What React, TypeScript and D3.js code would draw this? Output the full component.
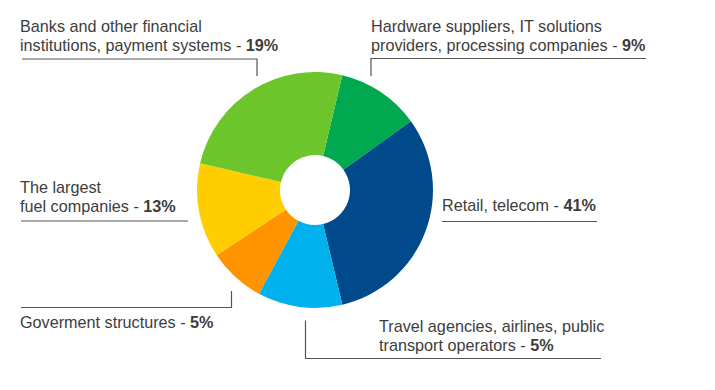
import { useEffect, useRef } from "react";
import * as d3 from "d3";

// ─── Data ─────────────────────────────────────────────────────────────────────

// slices clockwise, starting at the top (just right of 12 o'clock)
const SECTORS = ["Hardware", "Retail", "Travel", "Goverment", "Fuel", "Banks"];
// slice shares as drawn in the picture (not the printed labels)
const SHARES = [11.4, 31.2, 11.6, 7.8, 13.0, 25.1];
const COLORS = ["#00a84f", "#004a8b", "#00b1ee", "#ff9400", "#ffcd00", "#6cc52b"];

// labels: text lines, bold percent
const LABEL_LINES = [
  ["Hardware suppliers, IT solutions", "providers, processing companies - "],
  ["Retail, telecom - "],
  ["Travel agencies, airlines, public", "transport operators - "],
  ["Goverment structures - "],
  ["The largest", "fuel companies - "],
  ["Banks and other financial", "institutions, payment systems - "],
];
const LABEL_PCT = ["9%", "41%", "5%", "5%", "13%", "19%"];

// ─── Style ────────────────────────────────────────────────────────────────────

const TEXT = "#3d3d3d";
const LINE = "#555555";
const FONT = "'Liberation Sans', Arial, sans-serif";

export default function App() {
  const svgRef = useRef<SVGSVGElement>(null);

  useEffect(() => {
    if (!svgRef.current) return;
    const W = 715,
      H = 390;
    const cx = 315,
      cy = 190,
      R = 118,
      r = 35;

    const svg = d3.select(svgRef.current);
    svg.selectAll("*").remove();
    svg.attr("viewBox", `0 0 ${W} ${H}`);

    const start = (13.4 * Math.PI) / 180;
    const pie = d3
      .pie<number>()
      .sort(null)
      .startAngle(start)
      .endAngle(start + 2 * Math.PI)
      .value((d) => d);
    const arc = d3.arc<d3.PieArcDatum<number>>().innerRadius(r).outerRadius(R);

    svg
      .append("g")
      .attr("transform", `translate(${cx},${cy})`)
      .selectAll("path")
      .data(pie(SHARES))
      .enter()
      .append("path")
      .attr("d", arc)
      .attr("fill", (_, i) => COLORS[i]);

    // label anchor x / first baseline, leader paths
    const labelPos = [
      { x: 371, y: 31.5 },
      { x: 442, y: 211 },
      { x: 379, y: 331.5 },
      { x: 20, y: 327.5 },
      { x: 20, y: 193 },
      { x: 20, y: 31.5 },
    ];
    const leaders = [
      [[371, 76], [371, 58.5], [646, 58.5]],
      [[442, 221.5], [597, 221.5]],
      [[305.5, 320.5], [305.5, 358.5], [601, 358.5]],
      [[21, 307.5], [231.5, 307.5], [231.5, 291]],
      [[21, 221], [188, 221]],
      [[22, 59], [257, 59], [257, 76]],
    ];

    const lineGen = d3.line();
    svg
      .append("g")
      .selectAll("path")
      .data(leaders)
      .enter()
      .append("path")
      .attr("d", (d) => lineGen(d as [number, number][]))
      .attr("fill", "none")
      .attr("stroke", LINE)
      .attr("stroke-width", 1.2);

    const labels = svg
      .append("g")
      .attr("font-family", FONT)
      .attr("font-size", 16.2)
      .attr("fill", TEXT);

    LABEL_LINES.forEach((lines, i) => {
      const t = labels
        .append("text")
        .attr("x", labelPos[i].x)
        .attr("y", labelPos[i].y);
      lines.forEach((ln, j) => {
        t.append("tspan")
          .attr("x", labelPos[i].x)
          .attr("dy", j === 0 ? 0 : 19)
          .text(ln);
      });
      t.append("tspan").attr("font-weight", "bold").text(LABEL_PCT[i]);
    });
  }, []);

  return (
    <svg
      ref={svgRef}
      width={715}
      height={390}
      style={{ position: "absolute", left: 0, top: 0, background: "#fff" }}
    />
  );
}
